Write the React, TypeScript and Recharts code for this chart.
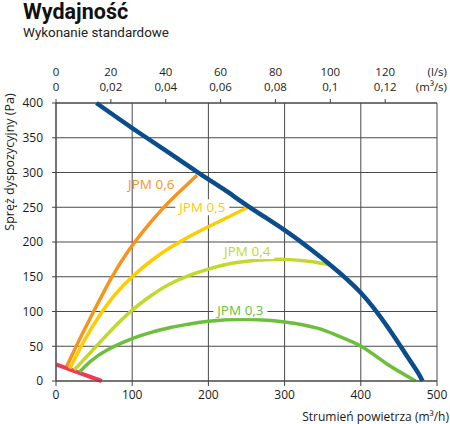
import React from 'react';
import {
  ComposedChart,
  Line,
  XAxis,
  YAxis,
  CartesianGrid,
  ReferenceDot,
} from 'recharts';

// airflow in m3/h, pressure in Pa
const blueFlow = [53, 100, 150, 185, 220, 253, 300, 330, 360, 400, 435, 463, 475, 481];
const bluePressure = [400, 364, 327, 301, 276, 251, 217, 193, 167, 127, 78, 32, 12, 0];

const jpm06Flow = [14, 30, 48, 72, 96, 120, 140, 160, 185];
const jpm06Pressure = [21, 58, 97, 147, 189, 223, 248, 270, 296];

const jpm05Flow = [18, 38, 57, 78, 100, 125, 150, 175, 200, 226, 252];
const jpm05Pressure = [18, 60, 94, 125, 150, 173, 192, 208, 222, 236, 250];

const jpm04Flow = [24, 52, 76, 100, 125, 150, 175, 200, 235, 270, 300, 334, 360];
const jpm04Pressure = [16, 49, 77, 102, 123, 140, 152, 161, 170, 174, 175, 172, 167];

const jpm03Flow = [31, 45, 66, 100, 125, 150, 175, 200, 246, 300, 343, 370, 402, 435, 472];
const jpm03Pressure = [13, 28, 44, 61, 70, 77, 82, 86, 89, 85, 76, 65, 49, 24, 0];

const redFlow = [0, 60];
const redPressure = [24, 0];

const bottomTicks = [0, 100, 200, 300, 400, 500];
const pressureTicks = [0, 50, 100, 150, 200, 250, 300, 350, 400];
// top scale: l/s and m3/s (1 l/s = 3.6 m3/h)
const litresTicks = [0, 20, 40, 60, 80, 100, 120];
const cubicTicks = ['0', '0,02', '0,04', '0,06', '0,08', '0,1', '0,12'];

const curveLabels = [
  { name: 'JPM 0,6', flow: 125, pressure: 284, color: '#f7941d', box: false },
  { name: 'JPM 0,5', flow: 192, pressure: 250, color: '#ffcc00', box: true },
  { name: 'JPM 0,4', flow: 251, pressure: 187, color: '#c3d82c', box: true },
  { name: 'JPM 0,3', flow: 242, pressure: 102, color: '#6bbf3b', box: true },
];

const toRows = (flow: number[], pressure: number[]) =>
  flow.map((q, i) => ({ q, p: pressure[i] }));

const FONT = '"Open Sans", "Noto Sans", sans-serif';

const TopTick = (props: any) => {
  const { x, y, payload } = props;
  const i = litresTicks.findIndex((v) => Math.abs(v * 3.6 - payload.value) < 0.01);
  return (
    <g>
      <text x={x} y={y - 21} textAnchor="middle" fontSize={11.5} fill="#222" fontFamily={FONT}>
        {litresTicks[i]}
      </text>
      <text x={x} y={y - 6} textAnchor="middle" fontSize={11.5} fill="#222" fontFamily={FONT}>
        {cubicTicks[i]}
      </text>
    </g>
  );
};

const CurveLabel = ({ viewBox, text, color, box }: any) => {
  const cx = viewBox.x + (viewBox.width || 0) / 2;
  const cy = viewBox.y + (viewBox.height || 0) / 2;
  return (
    <g>
      {box && <rect x={cx - 27} y={cy - 8} width={54} height={16} fill="#fff" />}
      <text
        x={cx}
        y={cy + 5}
        textAnchor="middle"
        fontSize={13.5}
        fill={color}
        fontFamily={FONT}
      >
        {text}
      </text>
    </g>
  );
};

export default function App() {
  return (
    <div style={{ position: 'absolute', left: 0, top: 0, width: 450, height: 424 }}>
      <div
        style={{
          position: 'absolute',
          left: 23,
          top: 1,
          lineHeight: 1,
          fontFamily: 'Roboto, sans-serif',
          fontWeight: 700,
          fontSize: 21.5,
          color: '#111',
        }}
      >
        Wydajność
      </div>
      <div
        style={{
          position: 'absolute',
          left: 23,
          top: 26,
          lineHeight: 1.1,
          fontFamily: 'Roboto, sans-serif',
          fontSize: 13.4,
          color: '#222',
        }}
      >
        Wykonanie standardowe
      </div>

      <ComposedChart
        width={450}
        height={424}
        margin={{ top: 63, right: 13, bottom: 13, left: 16 }}
      >
        <CartesianGrid stroke="#4a4a4a" strokeWidth={1} />
        <XAxis
          dataKey="q"
          type="number"
          domain={[0, 500]}
          ticks={bottomTicks}
          height={30}
          tickSize={5}
          tickMargin={4}
          stroke="#444"
          tick={{ fontSize: 12, fill: '#1a1a1a', fontFamily: FONT }}
          allowDataOverflow
          label={{
            content: () => (
              <text
                x={449}
                y={421}
                textAnchor="end"
                fontSize={12}
                fill="#1a1a1a"
                fontFamily={FONT}
              >
                Strumień powietrza (m³/h)
              </text>
            ),
          }}
        />
        <XAxis
          xAxisId="top"
          dataKey="q"
          orientation="top"
          type="number"
          domain={[0, 500]}
          ticks={litresTicks.map((v) => v * 3.6)}
          height={40}
          tickSize={4}
          tickMargin={2}
          stroke="#444"
          tick={<TopTick />}
          allowDataOverflow
          label={{
            content: () => (
              <g fontSize={11.5} fill="#222" fontFamily={FONT}>
                <text x={447} y={76} textAnchor="end">(l/s)</text>
                <text x={447} y={91} textAnchor="end">(m³/s)</text>
              </g>
            ),
          }}
        />
        <YAxis
          type="number"
          domain={[0, 400]}
          ticks={pressureTicks}
          width={40}
          tickSize={4}
          tickMargin={9}
          stroke="#444"
          tick={{ fontSize: 12, fill: '#1a1a1a', fontFamily: FONT }}
          label={{
            content: () => (
              <text
                x={14}
                y={162}
                transform="rotate(-90, 14, 162)"
                textAnchor="middle"
                fontSize={12.5}
                fill="#1a1a1a"
                fontFamily={FONT}
              >
                Spręż dyspozycyjny (Pa)
              </text>
            ),
          }}
        />

        <Line
          xAxisId="top"
          data={toRows(redFlow, redPressure)}
          dataKey="p"
          type="linear"
          stroke="#ee3a55"
          strokeWidth={4}
          dot={false}
          isAnimationActive={false}
        />
        <Line
          data={toRows(jpm03Flow, jpm03Pressure)}
          dataKey="p"
          type="natural"
          stroke="#6bbf3b"
          strokeWidth={3.5}
          dot={false}
          isAnimationActive={false}
        />
        <Line
          data={toRows(jpm04Flow, jpm04Pressure)}
          dataKey="p"
          type="natural"
          stroke="#c3d82c"
          strokeWidth={3.5}
          dot={false}
          isAnimationActive={false}
        />
        <Line
          data={toRows(jpm05Flow, jpm05Pressure)}
          dataKey="p"
          type="natural"
          stroke="#ffcc00"
          strokeWidth={3.5}
          dot={false}
          isAnimationActive={false}
        />
        <Line
          data={toRows(jpm06Flow, jpm06Pressure)}
          dataKey="p"
          type="natural"
          stroke="#f7941d"
          strokeWidth={3.5}
          dot={false}
          isAnimationActive={false}
        />
        <Line
          data={toRows(blueFlow, bluePressure)}
          dataKey="p"
          type="natural"
          stroke="#0a4d8c"
          strokeWidth={4.5}
          dot={false}
          isAnimationActive={false}
        />

        {curveLabels.map((l) => (
          <ReferenceDot
            key={l.name}
            x={l.flow}
            y={l.pressure}
            r={0}
            fill="none"
            stroke="none"
            label={<CurveLabel text={l.name} color={l.color} box={l.box} />}
          />
        ))}
      </ComposedChart>
    </div>
  );
}
